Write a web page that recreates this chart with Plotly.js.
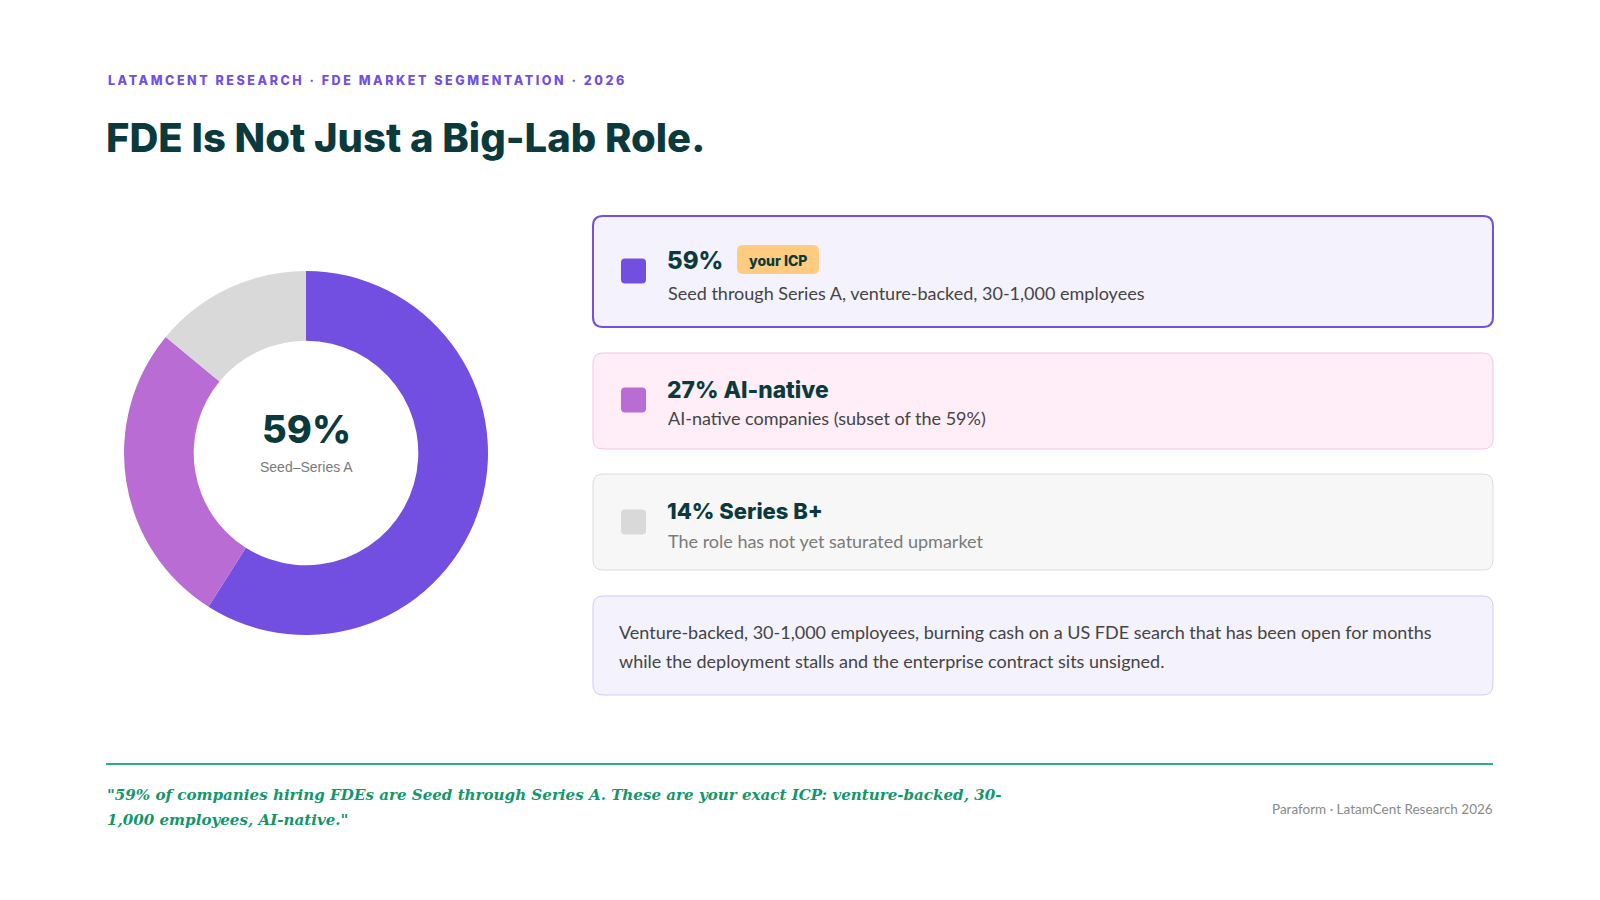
<!DOCTYPE html>
<html><head><meta charset="utf-8">
<script src="https://cdn.plot.ly/plotly-3.0.1.min.js"></script>
<style>html,body{margin:0;padding:0;background:#fff;} #chart{width:1600px;height:900px;}</style>
</head><body><div id="chart"></div>
<script>
// ---- data ----
const segmentLabels = ["Seed–Series A", "AI-native", "Series B+"];
const segmentValues = [59, 27, 14];
const segmentColors = ["#724FE1", "#B96DD4", "#D9D9D9"];
const cardHeadings = ["59%", "27% AI-native", "14% Series B+"];
const cardDescriptions = [
  "Seed through Series A, venture-backed, 30-1,000 employees",
  "AI-native companies (subset of the 59%)",
  "The role has not yet saturated upmarket"
];
const badgeText = "your ICP";
const calloutLines = [
  "Venture-backed, 30-1,000 employees, burning cash on a US FDE search that has been open for months",
  "while the deployment stalls and the enterprise contract sits unsigned."
];
const quoteLines = [
  "\"59% of companies hiring FDEs are Seed through Series A. These are your exact ICP: venture-backed, 30-",
  "1,000 employees, AI-native.\""
];
const kickerText = "LATAMCENT RESEARCH · FDE MARKET SEGMENTATION · 2026";
const titleText = "FDE Is Not Just a Big-Lab Role.";
const footerText = "Paraform · LatamCent Research 2026";

// ---- helpers (pixel -> paper) ----
const W = 1600, H = 900;
const px = x => x / W, py = y => 1 - y / H;
function rr(x0, y0, x1, y1, r) {
  const X = v => px(v).toFixed(5), Y = v => py(v).toFixed(5);
  return `M${X(x0+r)},${Y(y0)} L${X(x1-r)},${Y(y0)} Q${X(x1)},${Y(y0)} ${X(x1)},${Y(y0+r)} ` +
         `L${X(x1)},${Y(y1-r)} Q${X(x1)},${Y(y1)} ${X(x1-r)},${Y(y1)} ` +
         `L${X(x0+r)},${Y(y1)} Q${X(x0)},${Y(y1)} ${X(x0)},${Y(y1-r)} ` +
         `L${X(x0)},${Y(y0+r)} Q${X(x0)},${Y(y0)} ${X(x0+r)},${Y(y0)} Z`;
}
const DARK = "#0B3A3D";
const HEAD = "Inter";
const BODY = "Lato";

// ---- donut ----
const cx = 306, cy = 453, R = 182;
const trace = {
  type: "pie",
  labels: segmentLabels,
  values: segmentValues,
  marker: { colors: segmentColors, line: { width: 0 } },
  hole: 0.617,
  sort: false,
  direction: "clockwise",
  rotation: 0,
  textinfo: "none",
  hoverinfo: "label+percent",
  showlegend: false,
  domain: { x: [px(cx - R), px(cx + R)], y: [py(cy + R), py(cy - R)] }
};

// ---- cards ----
const cards = [
  { y0: 216, y1: 327, fill: "#F4F2FD", line: "#7350E0", lw: 2 },
  { y0: 353, y1: 449, fill: "#FFEEF7", line: "#F2C6E6", lw: 1 },
  { y0: 474, y1: 570, fill: "#F7F7F7", line: "#DCDCDC", lw: 1 },
];
const cardX0 = 593, cardX1 = 1493;
const shapes = [];
const annotations = [];
cards.forEach((c, i) => {
  shapes.push({ type: "path", xref: "paper", yref: "paper", path: rr(cardX0, c.y0, cardX1, c.y1, 10),
    fillcolor: c.fill, line: { color: c.line, width: c.lw }, layer: "below" });
});
// callout card
shapes.push({ type: "path", xref: "paper", yref: "paper", path: rr(cardX0, 596, cardX1, 695, 10),
  fillcolor: "#F4F2FD", line: { color: "#D3C9F6", width: 1 }, layer: "below" });

// swatches
const headY = [260, 389, 511];
const descY = [293, 418, 541];
const swY = [271, 400, 522];
segmentColors.forEach((col, i) => {
  shapes.push({ type: "path", xref: "paper", yref: "paper", path: rr(621, swY[i] - 12.5, 646, swY[i] + 12.5, 4),
    fillcolor: col, line: { width: 0 }, layer: "above" });
});
// badge
shapes.push({ type: "path", xref: "paper", yref: "paper", path: rr(737, 245, 819, 274, 6),
  fillcolor: "#FFCB80", line: { width: 0 }, layer: "above" });

// rule
shapes.push({ type: "line", xref: "paper", yref: "paper", x0: px(106), x1: px(1493), y0: py(764), y1: py(764),
  line: { color: "#2BB27E", width: 2 } });

function ann(text, x, y, size, color, family, opts = {}) {
  annotations.push(Object.assign({
    xref: "paper", yref: "paper", x: px(x), y: py(y), text, showarrow: false,
    xanchor: "left", yanchor: "middle", align: "left",
    font: { size, color, family }
  }, opts));
}

// header
ann(kickerText, 106, 80, 12.5, "#6F4FE6", HEAD, { font: { size: 12.5, color: "#6F4FE6", family: HEAD, weight: 800 } });
ann(titleText, 104, 137, 40, DARK, HEAD, { font: { size: 40, color: DARK, family: HEAD, weight: 800 } });

// card texts
const headSize = [24, 22.8, 22];
cardHeadings.forEach((t, i) => {
  ann(t, 665, headY[i], headSize[i], DARK, HEAD, { font: { size: headSize[i], color: DARK, family: HEAD, weight: 800 } });
  ann(cardDescriptions[i], 666, descY[i], 18, i === 2 ? "#7A7A7A" : "#444444", BODY);
});
ann(badgeText, 778, 260, 14, DARK, HEAD, { xanchor: "center", font: { size: 14, color: DARK, family: HEAD, weight: 800 } });

// callout
ann(calloutLines[0], 617, 632, 18, "#444444", BODY);
ann(calloutLines[1], 617, 661, 18, "#444444", BODY);

// donut centre
ann(segmentValues[0] + "%", cx, 429, 38, DARK, HEAD, { xanchor: "center", font: { size: 38, color: DARK, family: HEAD, weight: 800 } });
ann(segmentLabels[0], cx, 467, 14, "#7A7A7A", "Liberation Sans", { xanchor: "center" });

// quote + footer
const quoteFont = { size: 15.1, color: "#12976C", family: "DejaVu Serif", weight: 700, style: "italic" };
ann(quoteLines[0], 105, 795, 15.1, "#12976C", "DejaVu Serif", { font: quoteFont });
ann(quoteLines[1], 105, 820, 15.1, "#12976C", "DejaVu Serif", { font: quoteFont });
ann(footerText, 1495, 809, 13.5, "#8A8A8A", BODY, { xanchor: "right", align: "right" });

const layout = {
  width: W, height: H,
  margin: { l: 0, r: 0, t: 0, b: 0 },
  paper_bgcolor: "#FFFFFF", plot_bgcolor: "#FFFFFF",
  showlegend: false,
  shapes, annotations
};
Plotly.newPlot("chart", [trace], layout, { displayModeBar: false, staticPlot: true }).then(() => {
  document.querySelectorAll(".annotation-text").forEach(el => {
    if (el.textContent.startsWith("LATAMCENT")) el.style.letterSpacing = "2.55px";
  });
});
</script></body></html>
